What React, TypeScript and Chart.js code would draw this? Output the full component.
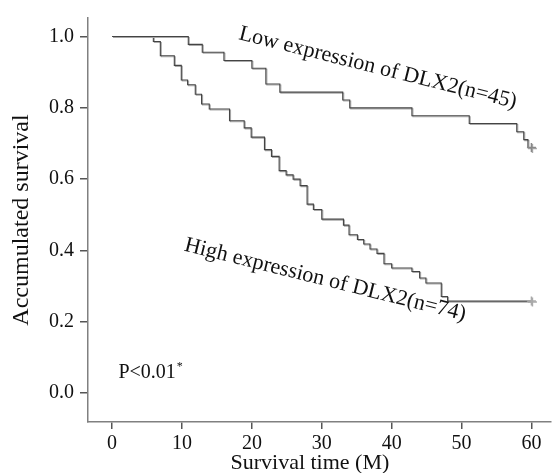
import React, { useEffect, useRef } from 'react';
import { Chart, registerables } from 'chart.js';

Chart.register(...registerables);

// ---- Data ----
const lowTimes = [0, 10.9, 12.9, 16.0, 20.0, 22.0, 24.0, 33.0, 34.0, 42.9, 51.1, 57.9, 58.9, 59.5, 60];
const lowSurvival = [1.0, 0.978, 0.956, 0.933, 0.911, 0.867, 0.844, 0.822, 0.8, 0.778, 0.756, 0.733, 0.711, 0.689, 0.689];

const highTimes = [0, 5.9, 6.9, 8.9, 9.9, 10.8, 11.9, 12.8, 13.9, 16.8, 18.9, 19.9, 21.8, 22.8, 23.9, 24.9, 25.9, 26.9, 27.9, 28.8, 30.0, 33.1, 33.9, 35.1, 36.0, 36.9, 37.9, 38.9, 40.0, 42.9, 44.0, 44.9, 47.1, 48.0, 60];
const highSurvival = [1.0, 0.986, 0.946, 0.919, 0.878, 0.865, 0.838, 0.811, 0.797, 0.764, 0.744, 0.718, 0.683, 0.664, 0.624, 0.612, 0.6, 0.582, 0.53, 0.515, 0.488, 0.471, 0.444, 0.431, 0.418, 0.404, 0.392, 0.363, 0.351, 0.341, 0.323, 0.309, 0.271, 0.258, 0.258];

const xTickValues = [0, 10, 20, 30, 40, 50, 60];
const yTickValues = [0, 0.2, 0.4, 0.6, 0.8, 1.0];

const lowLabel = 'Low expression of DLX2(n=45)';
const highLabel = 'High expression of DLX2(n=74)';
const pText = 'P<0.01';
const xTitle = 'Survival time (M)';
const yTitle = 'Accumulated survival';

const FONT = '"Liberation Serif", "Times New Roman", serif';

const annotations = [
  { text: lowLabel, x: 18.0, y: 0.993, angle: 14, size: 22 },
  { text: highLabel, x: 10.2, y: 0.4, angle: 14, size: 22 },
];

const toPoints = (xs: number[], ys: number[]) => xs.map((x, i) => ({ x, y: ys[i] }));

const shadowPlugin = {
  id: 'kmShadow',
  beforeDatasetDraw(chart: any) {
    const ctx = chart.ctx;
    ctx.save();
    ctx.shadowColor = 'rgba(165,165,165,0.95)';
    ctx.shadowOffsetX = 1;
    ctx.shadowOffsetY = 1;
    ctx.shadowBlur = 0;
  },
  afterDatasetDraw(chart: any) {
    chart.ctx.restore();
  },
};

const textPlugin = {
  id: 'kmText',
  afterDraw(chart: any) {
    const ctx = chart.ctx;
    const xs = chart.scales.x;
    const ys = chart.scales.y;
    ctx.save();
    ctx.fillStyle = '#111';
    ctx.textAlign = 'left';
    ctx.textBaseline = 'alphabetic';
    for (const a of annotations) {
      ctx.save();
      ctx.translate(xs.getPixelForValue(a.x), ys.getPixelForValue(a.y));
      ctx.rotate((a.angle * Math.PI) / 180);
      ctx.font = `${a.size}px ${FONT}`;
      ctx.fillText(a.text, 0, 0);
      ctx.restore();
    }
    // P value
    const px = xs.getPixelForValue(0.9);
    const py = ys.getPixelForValue(0.041);
    ctx.font = `20px ${FONT}`;
    ctx.fillText(pText, px, py);
    const w = ctx.measureText(pText).width;
    ctx.font = `12px ${FONT}`;
    ctx.fillText('*', px + w + 1, py - 8);
    // x title
    ctx.font = `22px ${FONT}`;
    ctx.textAlign = 'center';
    ctx.textBaseline = 'middle';
    ctx.fillText(xTitle, xs.getPixelForValue(28.3), chart.height - 10);
    ctx.restore();
  },
};

export default function App() {
  const ref = useRef<HTMLCanvasElement | null>(null);

  useEffect(() => {
    if (!ref.current) return;
    const crossRadius = (n: number) => (c: any) => (c.dataIndex === n - 1 ? 4.5 : 0);
    const chart = new Chart(ref.current, {
      type: 'line',
      data: {
        datasets: [
          {
            label: 'Low',
            data: toPoints(lowTimes, lowSurvival),
            stepped: true,
            borderColor: '#444',
            borderWidth: 1.1,
            pointStyle: 'cross',
            pointRadius: crossRadius(lowTimes.length),
            pointBorderColor: '#888',
            pointBorderWidth: 1.5,
            pointBackgroundColor: '#888',
            fill: false,
            clip: false,
          },
          {
            label: 'High',
            data: toPoints(highTimes, highSurvival),
            stepped: true,
            borderColor: '#444',
            borderWidth: 1.1,
            pointStyle: 'cross',
            pointRadius: crossRadius(highTimes.length),
            pointBorderColor: '#aaa',
            pointBorderWidth: 1.5,
            pointBackgroundColor: '#aaa',
            fill: false,
            clip: false,
          },
        ],
      },
      options: {
        animation: false,
        responsive: true,
        maintainAspectRatio: false,
        layout: { padding: { top: 13, right: 0, left: 0, bottom: 0 } },
        plugins: { legend: { display: false }, tooltip: { enabled: false } },
        scales: {
          x: {
            type: 'linear',
            min: -3.45,
            max: 62.8,
            afterBuildTicks: (s: any) => {
              s.ticks = xTickValues.map((v) => ({ value: v }));
            },
            afterFit: (s: any) => {
              s.height = 51;
            },
            ticks: {
              color: '#111',
              font: { family: FONT, size: 20 },
              padding: 3,
              maxRotation: 0,
              callback: (v: any) => String(v),
            },
            grid: { display: true, drawOnChartArea: false, drawTicks: true, tickLength: 7, color: '#555', lineWidth: 1.5 },
            border: { display: true, color: '#808080', width: 1.5 },
          },
          y: {
            type: 'linear',
            min: -0.081,
            max: 1.052,
            afterBuildTicks: (s: any) => {
              s.ticks = yTickValues.map((v) => ({ value: v }));
            },
            afterFit: (s: any) => {
              s.width = 88;
            },
            ticks: {
              color: '#111',
              font: { family: FONT, size: 20 },
              padding: 6,
              callback: (v: any) => Number(v).toFixed(1),
            },
            grid: { display: true, drawOnChartArea: false, drawTicks: true, tickLength: 8, color: '#555', lineWidth: 1.5 },
            border: { display: true, color: '#808080', width: 1.5 },
            title: {
              display: true,
              text: yTitle,
              color: '#111',
              font: { family: FONT, size: 24 },
              padding: { top: 7, bottom: 0 },
            },
          },
        },
      },
      plugins: [shadowPlugin, textPlugin],
    });
    return () => chart.destroy();
  }, []);

  return (
    <div style={{ position: 'absolute', left: 0, top: 0, width: 557, height: 473, background: '#fff' }}>
      <canvas ref={ref} />
    </div>
  );
}
